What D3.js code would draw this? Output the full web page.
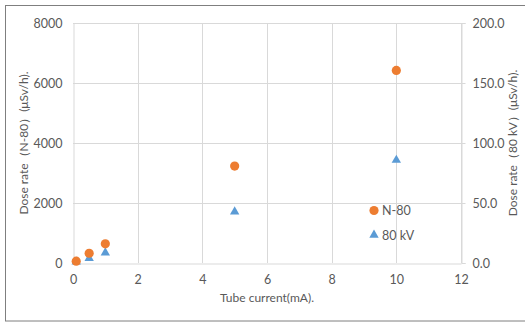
<!DOCTYPE html>
<html><head><meta charset="utf-8">
<script src="https://cdn.jsdelivr.net/npm/d3@7"></script>
<style>body{margin:0;background:#fff}svg{display:block}text{font-family:Lato,"Open Sans",sans-serif}</style>
</head><body><svg id="c" width="525" height="322"></svg>
<script>
const current = [0.1, 0.5, 1, 5, 10];
const doseN80 = [60, 325, 640, 3230, 6420];
const dose80kV = [1, 4, 8.6, 42.7, 85.8];
const xTicks = [0, 2, 4, 6, 8, 10, 12];
const yLeftTicks = [0, 2000, 4000, 6000, 8000];
const yRightTicks = [0, 50, 100, 150, 200];
const seriesNames = ["N-80", "80 kV"];
const colors = ["#ED7D31", "#5B9BD5"];

const svg = d3.select("#c");
const L = 73, R = 461, T = 23, B = 263;
const x = d3.scaleLinear().domain([0, 12]).range([L, R]);
const yL = d3.scaleLinear().domain([0, 8000]).range([B, T]);
const yR = d3.scaleLinear().domain([0, 200]).range([B, T]);
const tc = "#595959";

svg.append("rect").attr("x", 5.5).attr("y", 5.5).attr("width", 540).attr("height", 315.5)
  .attr("fill", "none").attr("stroke", "#7f7f7f").attr("stroke-width", 1);

// gridlines
svg.append("g").selectAll("line").data(yLeftTicks.slice(1)).join("line")
  .attr("x1", L).attr("x2", R).attr("y1", d => Math.round(yL(d)) + 0.5).attr("y2", d => Math.round(yL(d)) + 0.5)
  .attr("stroke", "#d9d9d9");
svg.append("g").selectAll("line").data(xTicks.slice(1)).join("line")
  .attr("y1", T).attr("y2", B).attr("x1", d => Math.round(x(d)) + 0.5).attr("x2", d => Math.round(x(d)) + 0.5)
  .attr("stroke", "#d9d9d9");

// axes
const gx = svg.append("g").attr("transform", `translate(0,${B + 0.5})`)
  .call(d3.axisBottom(x).tickValues(xTicks).tickSize(0).tickPadding(12));
const gl = svg.append("g").attr("transform", `translate(${L + 0.5},0)`)
  .call(d3.axisLeft(yL).tickValues(yLeftTicks).tickFormat(d3.format("d")).tickSize(0).tickPadding(11));
const gr = svg.append("g").attr("transform", `translate(${R + 0.5},0)`)
  .call(d3.axisRight(yR).tickValues(yRightTicks).tickFormat(d3.format(".1f")).tickSize(4).tickPadding(7));
[gx, gl, gr].forEach(g => {
  g.select(".domain").attr("stroke", "#d9d9d9");
  g.selectAll(".tick line").attr("stroke", "#d9d9d9");
  g.selectAll("text").attr("fill", tc).attr("font-size", 12.5).style("font-family", "Lato, 'Open Sans', sans-serif");
});

// titles
svg.append("text").attr("transform", `translate(28,${(T + B) / 2}) rotate(-90)`)
  .attr("text-anchor", "middle").attr("fill", tc).attr("font-size", 12).text("Dose rate（N-80）(μSv/h).");
svg.append("text").attr("transform", `translate(517,${(T + B) / 2}) rotate(-90)`)
  .attr("text-anchor", "middle").attr("fill", tc).attr("font-size", 12).text("Dose rate（80 kV）(μSv/h).");
svg.append("text").attr("x", (L + R) / 2).attr("y", 302)
  .attr("text-anchor", "middle").attr("fill", tc).attr("font-size", 12).text("Tube current(mA).");

// data
const tri = d3.symbol().type(d3.symbolTriangle).size(38);
svg.append("g").selectAll("path").data(current.map((c, i) => [c, dose80kV[i]])).join("path")
  .attr("d", tri).attr("transform", d => `translate(${x(d[0])},${yR(d[1])})`).attr("fill", colors[1]);
svg.append("g").selectAll("circle").data(current.map((c, i) => [c, doseN80[i]])).join("circle")
  .attr("cx", d => x(d[0])).attr("cy", d => yL(d[1])).attr("r", 4.6).attr("fill", colors[0]);

// legend
const lg = svg.append("g");
lg.append("circle").attr("cx", 374).attr("cy", 210.5).attr("r", 4.6).attr("fill", colors[0]);
lg.append("path").attr("d", tri).attr("transform", "translate(374,235)").attr("fill", colors[1]);
lg.selectAll("text").data(seriesNames).join("text")
  .attr("x", 382).attr("y", (d, i) => 215 + i * 24.5).attr("fill", tc).attr("font-size", 12.5).text(d => d);
</script></body></html>
